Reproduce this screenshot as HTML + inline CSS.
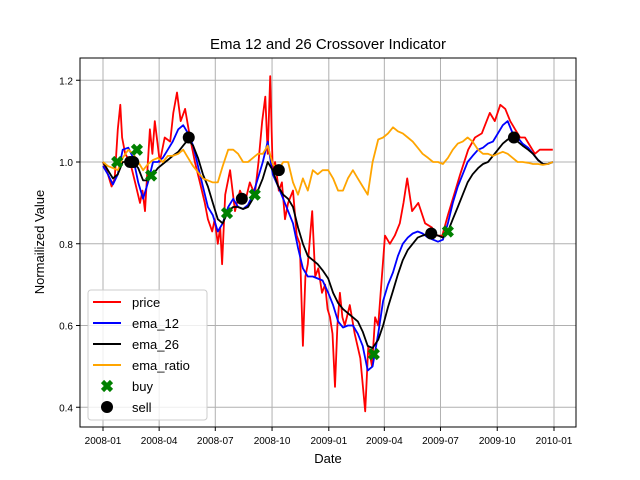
<!DOCTYPE html>
<html><head><meta charset="utf-8"><style>
body{margin:0;background:#fff}
svg{display:block;font-family:"Liberation Sans","DejaVu Sans",sans-serif}
</style></head><body>
<svg id="chart" width="640" height="480" viewBox="0 0 640 480" xmlns="http://www.w3.org/2000/svg">
<rect width="640" height="480" fill="#fff"/>
<g id="grid"></g>
<g id="series"></g>
<g id="axes"></g>
<text x="328" y="49" text-anchor="middle" font-size="15">Ema 12 and 26 Crossover Indicator</text>
<text x="328" y="463" text-anchor="middle" font-size="13">Date</text>
<text transform="translate(44,242) rotate(-90)" text-anchor="middle" font-size="13">Normailized Value</text>
<g id="legend"></g>
</svg>
<script>
// ---- data ----
const xTickLabels = ["2008-01","2008-04","2008-07","2008-10","2009-01","2009-04","2009-07","2009-10","2010-01"];
const xTickDays = [0,91,182,274,366,456,547,639,731];
const yTicks = [0.4,0.6,0.8,1.0,1.2];
const priceDays = [0,8,14,19,24,28,31,36,44,52,60,64,68,72,76,80,84,92,100,109,114,120,126,133,141,149,157,165,170,177,181,186,190,193,198,206,214,222,230,238,246,252,258,263,267,271,275,279,285,290,295,300,308,314,319,324,328,332,339,344,349,355,360,364,368,372,376,380,384,388,392,400,408,417,425,430,436,441,446,452,457,465,473,481,487,493,501,511,522,533,541,550,559,571,579,592,603,614,627,635,644,652,660,668,676,684,692,700,708,717,729];
const price = [1.0,0.97,0.94,0.96,1.08,1.14,1.06,1.02,1.0,0.95,0.9,0.93,0.88,0.98,1.08,1.02,1.1,1.0,1.06,1.05,1.12,1.17,1.1,1.13,1.06,1.0,0.95,0.9,0.86,0.83,0.86,0.8,0.84,0.75,0.92,0.98,0.88,0.93,0.90,0.95,0.92,1.0,1.1,1.16,1.02,1.21,0.98,1.0,0.93,0.95,0.86,0.9,0.93,0.82,0.8,0.55,0.72,0.75,0.88,0.72,0.74,0.68,0.70,0.64,0.62,0.58,0.45,0.60,0.68,0.62,0.6,0.65,0.58,0.52,0.39,0.55,0.5,0.62,0.6,0.72,0.82,0.8,0.82,0.85,0.9,0.96,0.88,0.9,0.85,0.84,0.82,0.82,0.87,0.93,0.97,1.03,1.06,1.07,1.12,1.1,1.14,1.13,1.1,1.08,1.06,1.06,1.04,1.02,1.03,1.03,1.03];
const emaDays = [0,8,16,24,32,41,49,57,65,73,81,89,97,105,113,122,130,138,146,154,162,170,178,186,194,203,211,219,227,235,243,251,259,267,275,284,292,300,308,316,324,332,340,348,356,365,373,381,389,397,405,413,421,429,437,446,454,462,470,478,486,494,502,510,518,527,535,543,551,559,567,575,583,591,599,608,616,624,632,640,648,656,664,672,680,689,697,705,713,721,729];
const ema12 = [.99,.97,.945,.97,1.03,1.035,1.01,.95,.91,.95,1.0,1.0,1.01,1.03,1.05,1.08,1.09,1.07,1.04,.99,.94,.89,.87,.83,.85,.89,.91,.89,.885,.895,.92,.96,1.0,1.05,.97,.94,.91,.88,.85,.79,.74,.72,.72,.715,.71,.68,.65,.61,.595,.60,.60,.58,.55,.49,.50,.58,.66,.70,.73,.77,.80,.815,.825,.83,.825,.815,.81,.805,.81,.85,.90,.94,.97,1.0,1.015,1.03,1.035,1.045,1.05,1.07,1.09,1.10,1.07,1.06,1.045,1.035,1.02,1.005,.995,.995,1.0];
const ema26 = [1.0,.98,.96,.97,1.0,1.0,1.0,.985,.955,.955,.97,.985,.995,1.005,1.015,1.025,1.04,1.055,1.04,1.01,.97,.94,.9,.86,.85,.88,.89,.89,.885,.89,.91,.93,.96,1.0,.98,.94,.92,.91,.89,.84,.80,.77,.76,.75,.735,.715,.68,.655,.64,.63,.62,.61,.585,.55,.545,.565,.60,.645,.685,.725,.76,.785,.80,.815,.82,.825,.825,.82,.815,.83,.86,.89,.92,.95,.97,.985,.995,1.0,1.015,1.03,1.045,1.055,1.06,1.05,1.04,1.03,1.02,1.005,.995,.995,1.0];
const emaRatio = [1.0,.99,.985,.98,1.01,1.03,1.02,1.0,.98,.995,1.005,1.01,1.0,1.015,1.015,1.02,1.03,1.01,.99,.975,.96,.955,.95,.95,.99,1.03,1.03,1.02,1.0,1.0,1.01,1.02,1.02,1.04,.995,.98,1.0,1.0,.95,.92,.96,.93,.98,.97,.98,.98,.96,.93,.93,.96,.98,.96,.94,.92,1.0,1.055,1.06,1.07,1.085,1.075,1.07,1.06,1.05,1.035,1.02,1.01,1.0,1.0,.995,1.01,1.03,1.045,1.05,1.06,1.05,1.03,1.02,1.02,1.015,1.02,1.025,1.02,1.01,1.0,1.0,.998,.995,.995,.993,.995,1.0];
const buyDays = [23,55,78,201,246,439,559];
const buyVals = [1.0,1.03,0.967,0.875,0.92,0.53,0.83];
const sellDays = [44,49,139,225,285,532,666];
const sellVals = [1.0,1.0,1.06,0.91,0.98,0.825,1.06];

// ---- axes ----
const L=80,R=576,T=58,B=427;
const xs = d => 103 + d*(554-103)/731;
const ys = v => 162 - (v-1.0)*(81.75/0.2);
const NS="http://www.w3.org/2000/svg";
function mk(tag, attrs, parent){const e=document.createElementNS(NS,tag);for(const k in attrs)e.setAttribute(k,attrs[k]);parent.appendChild(e);return e;}
const grid=document.getElementById('grid'), axes=document.getElementById('axes'), series=document.getElementById('series'), legend=document.getElementById('legend');
xTickDays.forEach((d,i)=>{
  const x=xs(d);
  const gl=mk('line',{x1:x,x2:x,y1:T,y2:B,stroke:'#b0b0b0','stroke-width':1},grid);
  
  
  const tk=mk('line',{x1:x,x2:x,y1:B,y2:B+4,stroke:'#000'},axes);
  
  
  const t=mk('text',{x:x,y:B+17,'text-anchor':'middle','font-size':10},axes);
  t.textContent=xTickLabels[i];
  
  
});
yTicks.forEach(v=>{
  const y=ys(v);
  const gl=mk('line',{x1:L,x2:R,y1:y,y2:y,stroke:'#b0b0b0','stroke-width':1},grid);
  
  
  const tk=mk('line',{x1:L-4,x2:L,y1:y,y2:y,stroke:'#000'},axes);
  
  
  const t=mk('text',{x:L-7,y:y+4,'text-anchor':'end','font-size':10},axes);
  t.textContent=v.toFixed(1);
  
  
});
const frame=mk('rect',{x:L,y:T,width:R-L,height:B-T,fill:'none',stroke:'#000','stroke-width':1},axes);



function line(days, vals, color, name){
  const p=mk('polyline',{points:days.map((d,i)=>xs(d).toFixed(1)+','+ys(vals[i]).toFixed(1)).join(' '),fill:'none',stroke:color,'stroke-width':1.8,'stroke-linejoin':'round'},series);
  
  
}
line(priceDays,price,'#ff0000','price-line');
line(emaDays,ema12,'#0000ff','ema-12-line');
line(emaDays,ema26,'#000000','ema-26-line');
line(emaDays,emaRatio,'#ffa500','ema-ratio-line');

function xMark(cx,cy,parent){
  const s=4.5;
  return mk('path',{d:`M${cx-s},${cy-s}L${cx+s},${cy+s}M${cx-s},${cy+s}L${cx+s},${cy-s}`,stroke:'#008000','stroke-width':4.5,'stroke-linecap':'butt'},parent);
}
buyDays.forEach((d,i)=>{
  const m=xMark(xs(d),ys(buyVals[i]),series);
  
  
});
sellDays.forEach((d,i)=>{
  const c=mk('circle',{cx:xs(d),cy:ys(sellVals[i]),r:6,fill:'#000'},series);
  
  
});

// ---- legend ----
const lb=mk('rect',{x:88,y:290,width:119,height:130,rx:3,fill:'#fff','fill-opacity':0.8,stroke:'#ccc'},legend);


const entries=[['price','#ff0000','line'],['ema_12','#0000ff','line'],['ema_26','#000000','line'],['ema_ratio','#ffa500','line'],['buy','#008000','x'],['sell','#000','o']];
entries.forEach((e,i)=>{
  const y=302+i*21;
  const g=mk('g',{},legend);
  
  
  if(e[2]==='line') mk('line',{x1:93,x2:121,y1:y,y2:y,stroke:e[1],'stroke-width':2},g);
  else if(e[2]==='x') xMark(107,y,g);
  else mk('circle',{cx:107,cy:y,r:6,fill:e[1]},g);
  const t=mk('text',{x:132,y:y+5,'font-size':13},g);
  t.textContent=e[0];
});
</script>
</body></html>
